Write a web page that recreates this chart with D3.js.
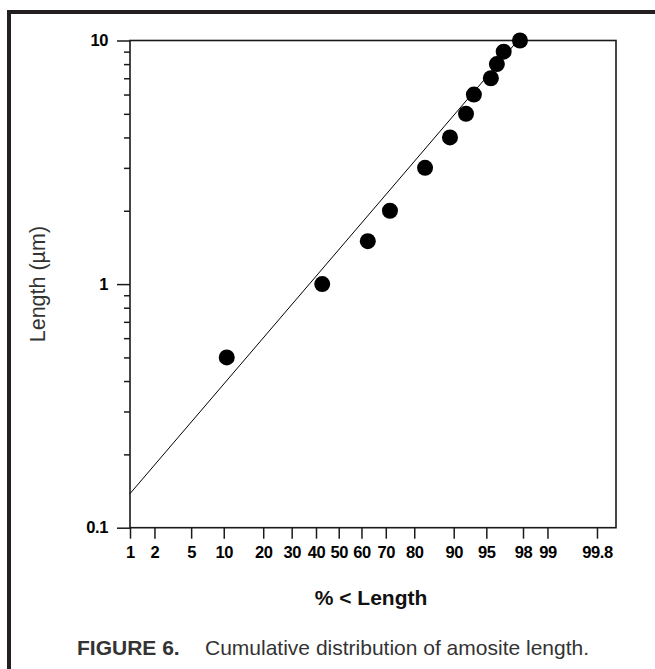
<!DOCTYPE html>
<html>
<head>
<meta charset="utf-8">
<script src="https://cdn.jsdelivr.net/npm/d3@7"></script>
<style>
  html, body { margin: 0; padding: 0; background: #fff; }
  svg { display: block; }
</style>
</head>
<body>
<svg id="chart" width="655" height="669"></svg>
<script>
// data
const pctLess   = [10.6, 42.7, 62.7, 71.6, 83.2, 89.25, 92.2, 93.4, 95.5, 96.1, 96.7, 97.83];
const lengthUm  = [0.5, 1, 1.5, 2, 3, 4, 5, 6, 7, 8, 9, 10];
// fitted lognormal line, two ends
const fitPct = [1, 97.7];
const fitLen = [0.138, 10];
// tick labels
const xTicks = [1, 2, 5, 10, 20, 30, 40, 50, 60, 70, 80, 90, 95, 98, 99, 99.8];
const yMajor = [0.1, 1, 10];
const yMinor = [0.2, 0.3, 0.4, 0.5, 0.6, 0.7, 0.8, 0.9, 2, 3, 4, 5, 6, 7, 8, 9];

// inverse normal cdf (Acklam) for the probability axis
function probit(p){
  const a = [-39.69683028665376, 220.9460984245205, -275.9285104469687, 138.3577518672690, -30.66479806614716, 2.506628277459239];
  const b = [-54.47609879822406, 161.5858368580409, -155.6989798598866, 66.80131188771972, -13.28068155288572];
  const c = [-0.007784894002430293, -0.3223964580411365, -2.400758277161838, -2.549732539343734, 4.374664141464968, 2.938163982698783];
  const d = [0.007784695709041462, 0.3224671290700398, 2.445134137142996, 3.754408661907416];
  const pl = 0.02425;
  let q, r;
  if(p < pl){
    q = Math.sqrt(-2*Math.log(p));
    return (((((c[0]*q+c[1])*q+c[2])*q+c[3])*q+c[4])*q+c[5]) / ((((d[0]*q+d[1])*q+d[2])*q+d[3])*q+1);
  }else if(p <= 1-pl){
    q = p-0.5; r = q*q;
    return (((((a[0]*r+a[1])*r+a[2])*r+a[3])*r+a[4])*r+a[5])*q / (((((b[0]*r+b[1])*r+b[2])*r+b[3])*r+b[4])*r+1);
  }
  q = Math.sqrt(-2*Math.log(1-p));
  return -(((((c[0]*q+c[1])*q+c[2])*q+c[3])*q+c[4])*q+c[5]) / ((((d[0]*q+d[1])*q+d[2])*q+d[3])*q+1);
}

const [pLeft, pRight, pTop, pBottom] = [130, 616, 40.5, 527.7];
const ink = '#1a1a1a';
const fontAx = '"Liberation Sans", Arial, sans-serif';

const svg = d3.select('#chart');

// page frame (top and left bars)
svg.append('rect').attr('x', 7).attr('y', 10).attr('width', 648).attr('height', 4).attr('fill', '#231f20');
svg.append('rect').attr('x', 7).attr('y', 10).attr('width', 4).attr('height', 659).attr('fill', '#231f20');

const zScale = d3.scaleLinear().domain([probit(0.01), probit(0.999)]).range([pLeft, pRight]);
const x = (pct) => zScale(probit(pct/100));
const y = d3.scaleLog().domain([0.1, 10]).range([pBottom, pTop]);

// x axis: ticks drawn by d3 axis on a linear z scale
const xAxis = d3.axisBottom(zScale)
  .tickValues(xTicks.map(p => probit(p/100)))
  .tickFormat((z, i) => String(xTicks[i]))
  .tickSize(11).tickSizeOuter(0).tickPadding(8);
const gx = svg.append('g').attr('transform', `translate(0,${pBottom})`).call(xAxis);
gx.select('.domain').remove();
gx.selectAll('line').attr('stroke', ink).attr('stroke-width', 1.5);
gx.selectAll('text').attr('fill', '#000').attr('font-family', fontAx).attr('font-weight', 'bold')
  .attr('font-size', 16.5).attr('letter-spacing', -0.4);

// y axis major
const yAxis = d3.axisLeft(y).tickValues(yMajor).tickFormat(d3.format('~g')).tickSize(13).tickSizeOuter(0).tickPadding(9);
const gy = svg.append('g').attr('transform', `translate(${pLeft},0)`).call(yAxis);
gy.select('.domain').remove();
gy.selectAll('line').attr('stroke', ink).attr('stroke-width', 1.5);
gy.selectAll('text').attr('fill', '#000').attr('font-family', fontAx).attr('font-weight', 'bold')
  .attr('font-size', 16.5).attr('letter-spacing', -0.4);

// y axis minor
const yAxisMinor = d3.axisLeft(y).tickValues(yMinor).tickFormat('').tickSize(6).tickSizeOuter(0);
const gym = svg.append('g').attr('transform', `translate(${pLeft},0)`).call(yAxisMinor);
gym.select('.domain').remove();
gym.selectAll('line').attr('stroke', ink).attr('stroke-width', 1.5);

// plot box
svg.append('rect').attr('x', pLeft).attr('y', pTop).attr('width', pRight-pLeft).attr('height', pBottom-pTop)
  .attr('fill', 'none').attr('stroke', ink).attr('stroke-width', 1.6);

// fitted line
svg.append('line')
  .attr('x1', x(fitPct[0])).attr('y1', y(fitLen[0]))
  .attr('x2', x(fitPct[1])).attr('y2', y(fitLen[1]))
  .attr('stroke', '#000').attr('stroke-width', 1);

// points
svg.append('g').selectAll('circle').data(pctLess).enter().append('circle')
  .attr('cx', d => x(d)).attr('cy', (d, i) => y(lengthUm[i])).attr('r', 8).attr('fill', '#000');

// axis titles
svg.append('text').attr('x', (pLeft+pRight)/2 - 2).attr('y', 605).attr('text-anchor', 'middle')
  .attr('font-family', fontAx).attr('font-weight', 'bold').attr('font-size', 21).attr('fill', '#111')
  .text('% < Length');
svg.append('text').attr('transform', `translate(45,${(pTop+pBottom)/2}) rotate(-90)`).attr('text-anchor', 'middle')
  .attr('font-family', fontAx).attr('font-size', 21.5).attr('fill', '#333')
  .text('Length (µm)');

// caption
const cap = svg.append('text').attr('x', 77).attr('y', 655).attr('font-family', fontAx).attr('font-size', 21).attr('fill', '#333');
cap.append('tspan').attr('font-weight', 'bold').text('FIGURE 6.');
cap.append('tspan').attr('x', 205).text('Cumulative distribution of amosite length.');
</script>
</body>
</html>
